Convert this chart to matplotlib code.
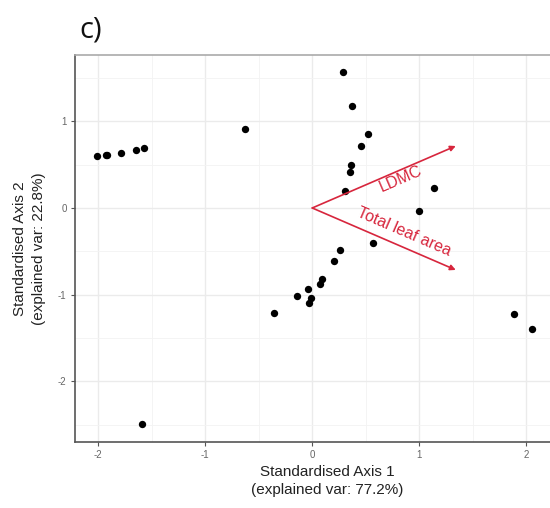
import matplotlib
matplotlib.use("Agg")
import matplotlib.pyplot as plt
import numpy as np

plt.rcParams['axes.unicode_minus'] = False

# Sample scores (standardised PCA axes)
axis1 = [-2.01, -1.93, -1.92, -1.79, -1.65, -1.57, -0.63, 0.29, 0.37, 0.52, 0.455,
         0.36, 0.35, 0.31, 1.14, 1.00, 0.57, 0.255, 0.20, 0.09, 0.07, -0.04, -0.14,
         -0.01, -0.03, -0.36, 1.885, 2.05, -1.585]
axis2 = [0.60, 0.61, 0.61, 0.64, 0.665, 0.69, 0.91, 1.57, 1.18, 0.85, 0.72,
         0.50, 0.42, 0.20, 0.23, -0.03, -0.40, -0.48, -0.61, -0.82, -0.88, -0.93, -1.02,
         -1.04, -1.10, -1.21, -1.22, -1.40, -2.49]

# Variable loadings (arrows)
var_names = ["LDMC", "Total leaf area"]
var_x = [1.34, 1.34]
var_y = [0.715, -0.715]
label_x = [0.83, 0.86]
label_y = [0.33, -0.27]

x_ticks = [-2, -1, 0, 1, 2]
y_ticks = [-2, -1, 0, 1]

W, H = 550, 508
fig = plt.figure(figsize=(W/100, H/100), dpi=100)
left_px, right_px, top_px, bottom_px = 75, 580, 55, 442
ax = fig.add_axes([left_px/W, 1 - bottom_px/H, (right_px-left_px)/W, (bottom_px-top_px)/H])

ax.set_xlim(-2.215, 2.5)
ax.set_ylim(-2.70, 1.765)

ax.set_xticks(x_ticks)
ax.set_yticks(y_ticks)
ax.set_xticks([-1.5, -0.5, 0.5, 1.5, 2.5], minor=True)
ax.set_yticks([-2.5, -1.5, -0.5, 0.5, 1.5], minor=True)
ax.grid(True, which='major', color='#ebebeb', lw=1.0)
ax.grid(True, which='minor', color='#f3f3f3', lw=0.6)
ax.set_axisbelow(True)
ax.tick_params(axis='both', which='major', length=3, width=0.8, color='#555555',
               labelsize=7, labelcolor='#666666', pad=3)
ax.tick_params(axis='both', which='minor', length=0)
for s in ax.spines.values():
    s.set_color('#555555')
    s.set_linewidth(1.2)
ax.spines['top'].set_color('#aaaaaa')

ax.scatter(axis1, axis2, s=28, color='black', zorder=3, linewidths=0)

red = '#d7263d'
for vx, vy, name, lx, ly in zip(var_x, var_y, var_names, label_x, label_y):
    ax.annotate('', xy=(vx, vy), xytext=(0, 0),
                arrowprops=dict(arrowstyle='-|>', color=red, lw=1.2,
                                mutation_scale=8, shrinkA=0, shrinkB=0), zorder=4)
    ang = np.degrees(np.arctan2(vy, vx))
    ax.text(lx, ly, name, color=red, fontsize=11.5, ha='center', va='center',
            rotation=ang, rotation_mode='anchor', transform_rotates_text=True,
            family='Liberation Sans', zorder=5)

ax.set_xlabel('Standardised Axis 1\n(explained var: 77.2%)', fontsize=11,
              color='#222222', family='Liberation Sans', labelpad=3, linespacing=1.4)
ax.set_ylabel('Standardised Axis 2\n(explained var: 22.8%)', fontsize=11,
              color='#222222', family='Liberation Sans', labelpad=9, linespacing=1.4)
for lab in ax.get_xticklabels() + ax.get_yticklabels():
    lab.set_family('Liberation Sans')

fig.text(79/W, 1 - 30/H, 'c)', fontsize=21, family='Open Sans', ha='left', va='center', color='#111111')

fig.savefig('out.png', dpi=100)
